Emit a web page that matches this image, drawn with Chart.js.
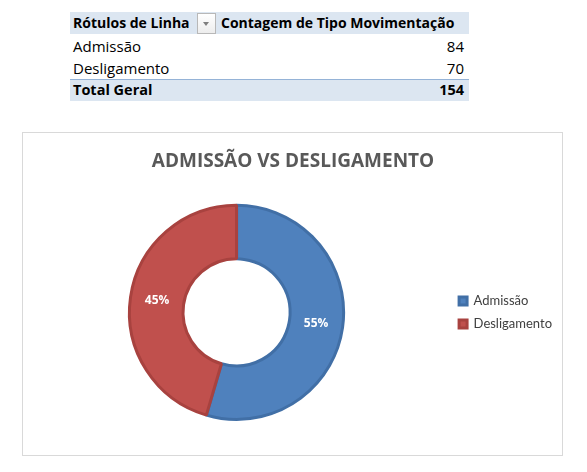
<!DOCTYPE html>
<html>
<head>
<meta charset="utf-8">
<script src="https://cdn.jsdelivr.net/npm/chart.js@4.4.1/dist/chart.umd.min.js"></script>
<style>
  body { margin: 0; background: #fff; width: 587px; height: 472px; overflow: hidden; position: relative; font-family: 'Open Sans', sans-serif; }
  .band { position: absolute; left: 70px; width: 399px; background: #DCE6F1; }
  .cell { position: absolute; font-size: 15px; color: #000; white-space: nowrap; line-height: 22px; }
  .b { font-weight: bold; font-size: 14px; }
  .num { text-align: right; right: 123px; }
  #drop { position: absolute; left: 197px; top: 13px; width: 17px; height: 19px; border: 1px solid #B8B8B8; background: linear-gradient(#ffffff, #EDEDED); }
  #drop:after { content: ''; position: absolute; left: 5px; top: 8px; border-left: 3.5px solid transparent; border-right: 3.5px solid transparent; border-top: 4px solid #7F7F7F; }
  #box { position: absolute; left: 22px; top: 132px; width: 539px; height: 322px; border: 1px solid #D9D9D9; background: #fff; }
  #box canvas { position: absolute; left: 0; top: 0; }
</style>
</head>
<body>
<div id="pivot"></div>
<div id="box"><canvas id="myChart" width="539" height="322"></canvas></div>
<script>
const categories = ['Admissão', 'Desligamento']
const counts = [84, 70]
const headers = ['Rótulos de Linha', 'Contagem de Tipo Movimentação']
const totalLabel = 'Total Geral'
const chartTitle = 'ADMISSÃO VS DESLIGAMENTO'

// pivot table above the chart
let pivot = document.getElementById('pivot')
let total = counts.reduce((a, b) => a + b, 0)
let html = '<div class="band" style="top:12px;height:22px"></div>'
html += '<div class="cell b" style="left:73px;top:12px">' + headers[0] + '</div>'
html += '<div id="drop"></div>'
html += '<div class="cell b" style="left:221px;top:12px">' + headers[1] + '</div>'
categories.forEach((c, i) => {
    let top = 35 + i * 22
    html += '<div class="cell" style="left:73px;top:' + top + 'px">' + c + '</div>'
    html += '<div class="cell num" style="top:' + top + 'px">' + counts[i] + '</div>'
})
html += '<div class="band" style="top:79px;height:21px;border-top:1px solid #95B3D7"></div>'
html += '<div class="cell b" style="left:73px;top:79px;font-size:14.5px">' + totalLabel + '</div>'
html += '<div class="cell b num" style="top:79px;font-size:14.5px">' + total + '</div>'
pivot.innerHTML = html

// percent labels inside each slice
const sliceLabels = {
    id: 'sliceLabels',
    afterDatasetsDraw(chart) {
        let ctx = chart.ctx
        let data = chart.data.datasets[0].data
        let sum = data.reduce((a, b) => a + b, 0)
        ctx.save()
        ctx.fillStyle = '#fff'
        ctx.font = 'bold 12px "Open Sans", sans-serif'
        ctx.textAlign = 'center'
        ctx.textBaseline = 'middle'
        chart.getDatasetMeta(0).data.forEach((arc, i) => {
            let p = arc.tooltipPosition()
            ctx.fillText(Math.round(data[i] / sum * 100) + '%', p.x, p.y)
        })
        ctx.restore()
    }
}

let myChart = document.getElementById('myChart').getContext('2d')

let donutChart = new Chart(myChart, {
    type: 'doughnut',
    data: {
        labels: categories,
        datasets: [{
            data: counts,
            backgroundColor: ['#4F81BD', '#C0504D'],
            borderColor: ['#416FA6', '#A8423F'],
            borderWidth: 3,
            hoverOffset: 0
        }]
    },
    options: {
        responsive: false,
        animation: false,
        cutout: '50%',
        layout: { padding: { left: 1, right: 0, top: 0, bottom: 34 } },
        plugins: {
            title: {
                display: true,
                text: chartTitle,
                color: '#595959',
                font: { family: '"Open Sans", sans-serif', size: 19, weight: 'bold' },
                padding: { top: 17, bottom: 31 }
            },
            legend: {
                position: 'right',
                fullSize: false,
                labels: {
                    boxWidth: 8,
                    boxHeight: 8,
                    padding: 10,
                    color: '#404040',
                    font: { family: 'Lato, sans-serif', size: 13 }
                }
            },
            tooltip: { enabled: false }
        }
    },
    plugins: [sliceLabels]
})
</script>
</body>
</html>
